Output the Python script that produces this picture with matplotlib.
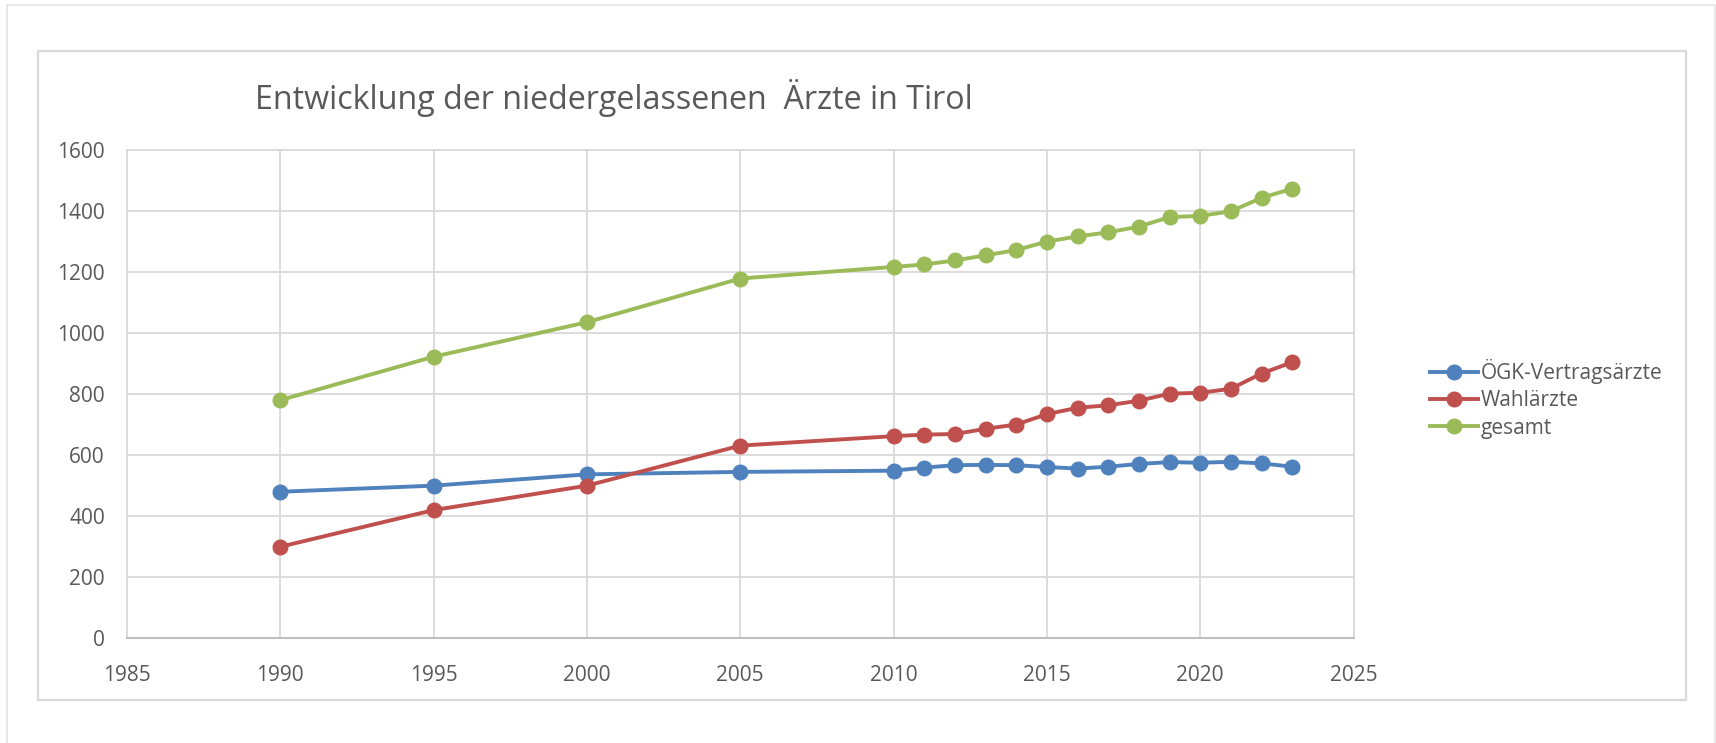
import matplotlib
matplotlib.use("Agg")
import matplotlib.pyplot as plt
from matplotlib.lines import Line2D
from matplotlib.patches import Rectangle

# Niedergelassene Aerzte in Tirol
years = [1990, 1995, 2000, 2005, 2010, 2011, 2012, 2013, 2014, 2015,
         2016, 2017, 2018, 2019, 2020, 2021, 2022, 2023]
oegk = [480, 500, 537, 545, 549, 559, 567, 568, 567, 561,
        556, 562, 571, 577, 575, 578, 573, 562]
wahl = [300, 420, 500, 631, 662, 667, 669, 686, 700, 734,
        755, 763, 778, 801, 804, 817, 867, 904]
gesamt = [780, 922, 1035, 1178, 1216, 1224, 1237, 1254, 1271, 1299,
          1316, 1329, 1348, 1379, 1383, 1398, 1442, 1472]

series_names = ["ÖGK-Vertragsärzte", "Wahlärzte", "gesamt"]
colors = ["#4F81BD", "#C0504D", "#9BBB59"]
title = "Entwicklung der niedergelassenen  Ärzte in Tirol"

xticks = list(range(1985, 2026, 5))
yticks = list(range(0, 1601, 200))

plt.rcParams['font.family'] = ['Open Sans', 'DejaVu Sans']
txt_col = '#595959'
grid_col = '#D9D9D9'

W, H = 1716, 743
fig = plt.figure(figsize=(W/100, H/100), dpi=100)

# outer border and chart frame (pixel coords -> figure fraction)
def px_rect(x0, y0, x1, y1, lw, col):
    fig.patches.append(Rectangle((x0/W, 1 - y1/H), (x1-x0)/W, (y1-y0)/H,
                                 transform=fig.transFigure, fill=False,
                                 edgecolor=col, linewidth=lw))
px_rect(7, 5, 1715, 760, 1.2, '#E3E3E3')
px_rect(38, 51, 1686, 700, 1.6, grid_col)

ax = fig.add_axes([127/W, 1 - 638.4/H, (1353.5-127)/W, (638.4-149.6)/H])

for vals, name, c in zip([oegk, wahl, gesamt], series_names, colors):
    ax.plot(years, vals, color=c, linewidth=2.8, marker='o', markersize=10.5,
            label=name, solid_capstyle='round')

ax.set_xlim(1985, 2025)
ax.set_ylim(0, 1600)
ax.set_xticks(xticks)
ax.set_yticks(yticks)
ax.grid(True, color=grid_col, linewidth=1.3)
ax.set_axisbelow(True)
for s in ['top', 'right', 'left']:
    ax.spines[s].set_color(grid_col)
    ax.spines[s].set_linewidth(1.3)
ax.spines['bottom'].set_color('#BFBFBF')
ax.spines['bottom'].set_linewidth(1.5)
ax.tick_params(length=0, labelsize=15, colors=txt_col)
ax.tick_params(axis='x', pad=19)
ax.tick_params(axis='y', pad=16)

fig.text(255/W, 1 - 98/H, title, fontsize=23.2, color=txt_col,
         ha='left', va='center')

handles = [Line2D([], [], color=c, linewidth=2.8, marker='o', markersize=10.5)
           for c in colors]
leg = fig.legend(handles, series_names, loc='center left',
                 bbox_to_anchor=(1420/W, 1 - 399/H), frameon=False,
                 fontsize=15, handlelength=2.3, handletextpad=0.1,
                 labelspacing=0.3, borderpad=0)
for t in leg.get_texts():
    t.set_color(txt_col)

fig.savefig("out.png", dpi=100, facecolor='white')
